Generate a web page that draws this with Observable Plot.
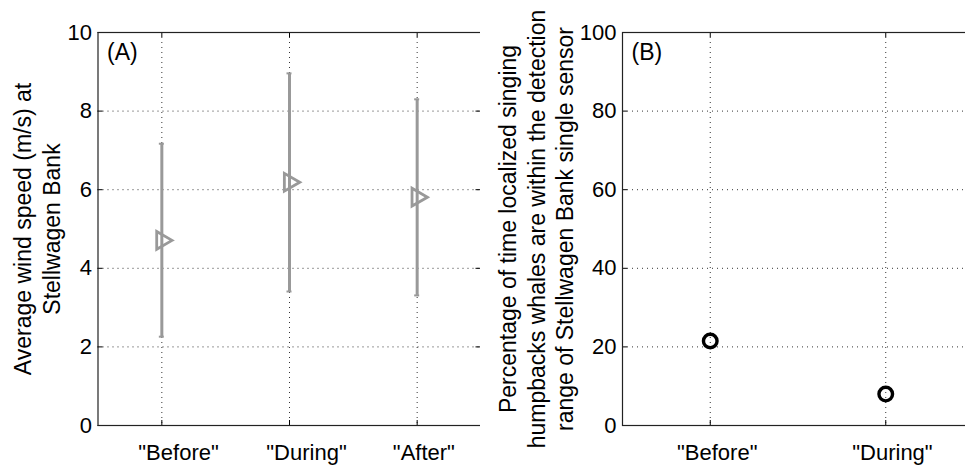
<!DOCTYPE html>
<html>
<head>
<meta charset="utf-8">
<script src="https://cdn.jsdelivr.net/npm/d3@7"></script>
<script src="https://cdn.jsdelivr.net/npm/@observablehq/plot@0.6"></script>
<style>
  html, body { margin: 0; padding: 0; background: white; overflow: hidden; }
  #wrap { position: relative; width: 965px; height: 467px; overflow: hidden; background: white; }
  #wrap > div { position: absolute; top: 0; }
  #panelA { left: 0; width: 490px; }
  #panelB { left: 480px; width: 495px; }
  #wrap svg { max-width: none !important; }
</style>
</head>
<body>
<div id="wrap"><div id="panelA"></div><div id="panelB"></div></div>
<script>
// ---- Data ----
const categoriesA = ['"Before"', '"During"', '"After"'];
const windMean = [4.71, 6.19, 5.81];
const windLow  = [2.26, 3.41, 3.31];
const windHigh = [7.17, 8.96, 8.30];
const yTicksA = [0, 2, 4, 6, 8, 10];

const categoriesB = ['"Before"', '"During"'];
const pctInRange = [21.5, 8.0];
const yTicksB = [0, 20, 40, 60, 80, 100];

const labelA = "Average wind speed (m/s) at\nStellwagen Bank";
const labelB = "Percentage of time localized singing\nhumpbacks whales are within the detection\nrange of Stellwagen Bank single sensor";

// horizontal pixel offsets of the category labels relative to their ticks (as in the reference)
const labelShiftA = [16.7, 17, 6.7];
const labelShiftB = [7, 6.7];

// ---- Tables ----
const dataA = categoriesA.map((c, i) => ({pos: i + 1, label: c, mean: windMean[i], low: windLow[i], high: windHigh[i]}));
const dataB = categoriesB.map((c, i) => ({pos: i + 1, label: c, value: pctInRange[i]}));

const FONT = "'Liberation Sans', Arial, Helvetica, sans-serif";
const FS = 22;   // tick labels
const FL = 23;   // axis titles & panel tags
const gridStyle = {stroke: "#000", strokeOpacity: 0.8, strokeWidth: 1, strokeDasharray: "1,4"};

function panel({width, marginLeft, marginRight, xDomain, yDomain, xLabels, xShift, yTicks, tag, ylabel, ylabelDx, extraMarks}) {
  const height = 467, marginTop = 32, marginBottom = 42;
  const fw = width - marginLeft - marginRight;
  const fh = height - marginTop - marginBottom;
  const xTicks = xLabels.map((_, i) => i + 1);
  const innerY = yTicks.slice(1, -1);
  return Plot.plot({
    width, height, marginLeft, marginRight, marginTop, marginBottom,
    style: {fontFamily: FONT, fontSize: FS + "px", background: "white", color: "black", overflow: "visible"},
    x: {domain: xDomain, axis: null},
    y: {domain: yDomain},
    marks: [
      Plot.gridX(xTicks, gridStyle),
      Plot.gridY(innerY, gridStyle),
      // inward ticks (MATLAB style)
      Plot.ruleY(yTicks, {stroke: "#000", insetRight: fw - 5}),
      Plot.ruleY(yTicks, {stroke: "#000", insetLeft: fw - 5}),
      Plot.ruleX(xTicks, {stroke: "#000", insetTop: fh - 5}),
      Plot.ruleX(xTicks, {stroke: "#000", insetBottom: fh - 5}),
      ...extraMarks,
      // category labels (each with its own offset)
      ...xLabels.map((lab, i) => Plot.text([xTicks[i]], {
        x: d => d, text: () => lab, frameAnchor: "bottom", dy: 19, dx: xShift[i],
        lineAnchor: "top", textAnchor: "middle", fontSize: FS
      })),
      Plot.axisY(yTicks, {tickSize: 0, tickPadding: 6, label: null, fontSize: FS}),
      Plot.frame({stroke: "#222", strokeWidth: 1.2}),
      Plot.text([tag], {text: d => d, frameAnchor: "top-left", dx: 9, dy: 11, lineAnchor: "top", textAnchor: "start", fontSize: FL}),
      Plot.text([ylabel], {text: d => d, frameAnchor: "left", dx: ylabelDx, rotate: -90, textAnchor: "middle", lineAnchor: "middle", lineHeight: 1.24, fontSize: FL})
    ]
  });
}

const grey = "#999999";
const plotA = panel({
  width: 490, marginLeft: 97.5, marginRight: 9.5,
  xDomain: [0.5, 3.5], yDomain: [0, 10],
  xLabels: categoriesA, xShift: labelShiftA,
  yTicks: yTicksA, tag: "(A)", ylabel: labelA, ylabelDx: -61.5,
  extraMarks: [
    Plot.ruleX(dataA, {x: "pos", y1: "low", y2: "high", stroke: grey, strokeWidth: 3}),
    Plot.ruleY(dataA, {y: "low", x1: "pos", x2: "pos", insetLeft: -2.5, insetRight: -2.5, stroke: grey, strokeWidth: 2}),
    Plot.ruleY(dataA, {y: "high", x1: "pos", x2: "pos", insetLeft: -2.5, insetRight: -2.5, stroke: grey, strokeWidth: 2}),
    Plot.dot(dataA, {x: "pos", y: "mean", symbol: "triangle", rotate: 90, r: 6.6, stroke: grey, strokeWidth: 2.8, fill: "none"})
  ]
});

const plotB = panel({
  width: 495, marginLeft: 142, marginRight: 2,
  xDomain: [0.5, 2.5], yDomain: [0, 100],
  xLabels: categoriesB, xShift: labelShiftB,
  yTicks: yTicksB, tag: "(B)", ylabel: labelB, ylabelDx: -87,
  extraMarks: [
    Plot.dot(dataB, {x: "pos", y: "value", r: 6.8, stroke: "#000", strokeWidth: 3.4, fill: "none"})
  ]
});

document.getElementById("panelA").appendChild(plotA);
document.getElementById("panelB").appendChild(plotB);
</script>
</body>
</html>
